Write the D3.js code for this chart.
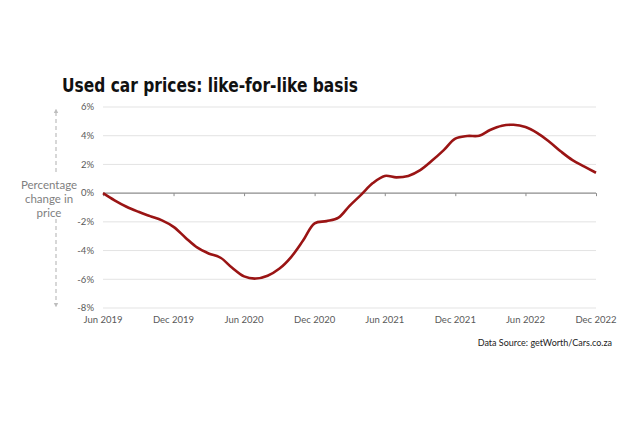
<!DOCTYPE html>
<html>
<head>
<meta charset="utf-8">
<script src="https://cdn.jsdelivr.net/npm/d3@7"></script>
<style>
  body { margin: 0; background: #fff; }
  svg { display: block; }
</style>
</head>
<body>
<div id="graphic"></div>
<script>
// monthly % change, Jun 2019 .. Dec 2022
var months = d3.timeMonth.range(new Date(2019, 5, 1), new Date(2023, 0, 1));
var values = [0, -0.5, -0.95, -1.3, -1.6, -1.9, -2.35, -3.1, -3.8, -4.2, -4.5, -5.2,
  -5.8, -5.95, -5.75, -5.25, -4.45, -3.3, -2.1, -1.95, -1.7, -0.9, -0.1, 0.7,
  1.2, 1.1, 1.2, 1.6, 2.25, 3.0, 3.8, 3.98, 4.0, 4.4, 4.7, 4.76,
  4.6, 4.2, 3.6, 2.9, 2.3, 1.85, 1.42];
var yTicks = [-8, -6, -4, -2, 0, 2, 4, 6];
var xTicks = months.filter(function(d, i) { return i % 6 === 0; });
var title = "Used car prices: like-for-like basis";
var axisLabel = ["Percentage", "change in", "price"];
var source = "Data Source: getWorth/Cars.co.za";

var width = 640, height = 427;
var svg = d3.select("#graphic").append("svg").attr("width", width).attr("height", height);

var x = d3.scaleTime().domain([months[0], months[months.length - 1]]).range([103, 596]);
var y = d3.scaleLinear().domain([-8, 6]).range([308, 107]);

// title
svg.append("text").attr("x", 62).attr("y", 92)
  .attr("font-family", "DejaVu Sans").attr("font-weight", "bold").attr("font-size", 19)
  .attr("textLength", 296).attr("lengthAdjust", "spacingAndGlyphs")
  .attr("fill", "#111").text(title);

// gridlines
svg.append("g").selectAll("line").data(yTicks.filter(function(d) { return d !== 0; })).join("line")
  .attr("x1", 103).attr("x2", 596)
  .attr("y1", function(d) { return y(d); }).attr("y2", function(d) { return y(d); })
  .attr("stroke", "#e3e3e3").attr("stroke-width", 1);

// y tick labels
svg.append("g").selectAll("text").data(yTicks).join("text")
  .attr("x", 94).attr("y", function(d) { return y(d); }).attr("dy", "0.35em")
  .attr("text-anchor", "end").attr("font-family", "Lato").attr("font-size", 9.5)
  .attr("fill", "#595959").text(function(d) { return d + "%"; });

// zero axis with ticks
var xAxis = d3.axisBottom(x).tickValues(xTicks).tickSize(3).tickFormat("");
var ax = svg.append("g").attr("transform", "translate(0," + y(0) + ")").call(xAxis);
ax.select(".domain").attr("stroke", "#8c8c8c").attr("stroke-width", 1.2).attr("d", "M103,0H596");
ax.selectAll(".tick line").attr("stroke", "#8c8c8c");

// x labels at bottom
var fmt = d3.timeFormat("%b %Y");
svg.append("g").selectAll("text").data(xTicks).join("text")
  .attr("x", function(d) { return x(d); }).attr("y", 323)
  .attr("text-anchor", "middle").attr("font-family", "Lato").attr("font-size", 9.5)
  .attr("fill", "#595959").text(function(d) { return fmt(d); });

// line
var line = d3.line()
  .x(function(d, i) { return x(months[i]); })
  .y(function(d) { return y(d); })
  .curve(d3.curveCatmullRom.alpha(0.5));
svg.append("path").datum(values).attr("d", line)
  .attr("fill", "none").attr("stroke", "#9a1414").attr("stroke-width", 2.6)
  .attr("stroke-linejoin", "round");

// axis label and dashed arrow
var ax2 = svg.append("g");
var defs = svg.append("defs");
defs.append("marker").attr("id", "arr").attr("viewBox", "0 0 10 10")
  .attr("refX", 5).attr("refY", 5).attr("markerWidth", 4).attr("markerHeight", 5)
  .attr("orient", "auto-start-reverse")
  .append("path").attr("d", "M0,0L10,5L0,10Z").attr("fill", "#bdbdbd");
ax2.append("line").attr("x1", 56).attr("x2", 56).attr("y1", 172).attr("y2", 111)
  .attr("stroke", "#bdbdbd").attr("stroke-width", 1.2).attr("stroke-dasharray", "4,3")
  .attr("marker-end", "url(#arr)");
ax2.append("line").attr("x1", 56).attr("x2", 56).attr("y1", 219).attr("y2", 305)
  .attr("stroke", "#bdbdbd").attr("stroke-width", 1.2).attr("stroke-dasharray", "4,3")
  .attr("marker-end", "url(#arr)");
ax2.selectAll("text").data(axisLabel).join("text")
  .attr("x", 49).attr("y", function(d, i) { return 189 + i * 14; })
  .attr("text-anchor", "middle").attr("font-family", "Lato").attr("font-size", 11.5)
  .attr("fill", "#7f7f7f").text(function(d) { return d; });

// source
svg.append("text").attr("x", 612).attr("y", 346).attr("text-anchor", "end")
  .attr("font-family", "Lato").attr("font-size", 9).attr("fill", "#222").text(source);
</script>
</body>
</html>
